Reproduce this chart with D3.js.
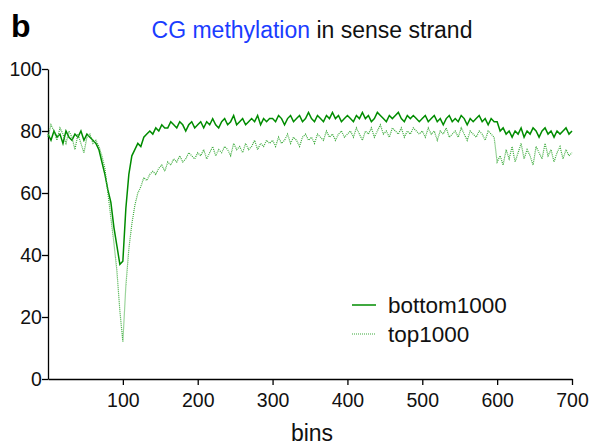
<!DOCTYPE html>
<html>
<head>
<meta charset="utf-8">
<script src="https://cdn.jsdelivr.net/npm/d3@7"></script>
<style>
body { margin: 0; background: #fff; }
text { font-family: "Liberation Sans", Arial, sans-serif; }
</style>
</head>
<body>
<div id="chart"></div>
<script>
// one value every 4 bins (0..700)
var binStep = 4;

var bottom1000 = [
    79,77,80,78,79,76,80,78,77,79,78,80,77,79,78,77,
    76,74,70,66,61,57,49,43,37,
    38,55,66,72,74,76,75,78,79,80,79,81,80,82,81,81,83,82,81,83,82,80,82,83,81,
    82,83,81,83,82,84,82,81,83,84,82,83,85,82,83,84,82,83,84,83,85,82,84,83,84,
    84,83,85,84,82,84,85,83,84,85,83,84,86,84,83,85,84,83,85,84,86,84,85,83,84,
    85,84,83,85,84,86,84,85,83,84,86,85,84,83,85,84,85,86,84,83,85,84,85,84,83,
    84,85,83,84,85,83,84,82,84,85,83,84,83,85,84,82,84,83,84,85,83,84,82,84,83,
    83,
    80,81,79,80,78,80,79,81,78,80,79,81,80,78,80,81,79,80,78,80,79,80,81,79,80
];

var top1000 = [
    78,82,80,77,81,79,76,80,78,74,79,76,73,78,79,76,
    77,75,72,68,60,52,44,35,22,
    12,30,42,50,56,60,62,65,64,66,67,66,68,69,67,70,69,71,70,72,70,71,73,72,71,
    73,72,74,71,73,75,72,74,73,75,74,72,76,74,75,73,76,74,75,77,74,76,75,77,76,
    77,75,78,76,77,79,76,78,77,75,78,79,77,78,76,79,78,77,80,78,79,77,79,80,78,
    79,80,78,81,79,77,80,79,81,78,80,82,79,80,78,81,80,79,81,78,80,79,81,80,79,
    80,78,81,79,80,77,80,79,81,78,79,80,78,81,79,77,80,79,78,80,79,77,80,79,78,
    70,
    72,69,74,71,75,70,73,76,71,74,72,69,75,73,71,76,72,74,70,73,75,71,74,72,73
];

var xTicks = [100, 200, 300, 400, 500, 600, 700];
var yTicks = [0, 20, 40, 60, 80, 100];

var series = [
    { name: "bottom1000", values: bottom1000, color: "#008c00", dash: null, width: 1.5 },
    { name: "top1000", values: top1000, color: "#3aaa3a", dash: "1,1", width: 1.2 }
];

var W = 597, H = 447;
var margin = { top: 69, right: 25, bottom: 68, left: 48 };
var width = W - margin.left - margin.right;
var height = H - margin.top - margin.bottom;

var svg = d3.select("#chart").append("svg")
    .attr("width", W)
    .attr("height", H);

var g = svg.append("g")
    .attr("transform", "translate(" + margin.left + "," + margin.top + ")");

var x = d3.scaleLinear().domain([0, 700]).range([0, width]);
var y = d3.scaleLinear().domain([0, 100]).range([height, 0]);

// axes
var xAxis = d3.axisBottom(x).tickValues(xTicks).tickSize(6).tickSizeOuter(0);
var yAxis = d3.axisLeft(y).tickValues(yTicks).tickSize(6).tickSizeOuter(0);

var gx = g.append("g")
    .attr("transform", "translate(0," + height + ")")
    .call(xAxis);
var gy = g.append("g").call(yAxis);

[gx, gy].forEach(function(a) {
    a.select(".domain").attr("stroke", "#000").attr("stroke-width", 1.3);
    a.selectAll(".tick line").attr("stroke", "#000").attr("stroke-width", 1.3);
    a.selectAll(".tick text")
        .attr("fill", "#111")
        .style("font-size", "19.5px");
});
gx.selectAll(".tick text").attr("dy", "0.95em");
gy.selectAll(".tick text").attr("dx", "0.15em").attr("dy", "0.35em");

// lines
var line = d3.line()
    .x(function(d, i) { return x(i * binStep); })
    .y(function(d) { return y(d); });

series.forEach(function(s) {
    g.append("path")
        .datum(s.values)
        .attr("fill", "none")
        .attr("stroke", s.color)
        .attr("stroke-width", s.width)
        .attr("stroke-dasharray", s.dash)
        .attr("d", line);
});

// legend
var legend = g.append("g").attr("transform", "translate(304,236)");
series.forEach(function(s, i) {
    var row = legend.append("g").attr("transform", "translate(0," + (i * 29) + ")");
    row.append("line")
        .attr("x1", 0).attr("x2", 24)
        .attr("y1", 0).attr("y2", 0)
        .attr("stroke", s.color)
        .attr("stroke-width", s.width)
        .attr("stroke-dasharray", s.dash);
    row.append("text")
        .attr("x", 36).attr("y", 8)
        .style("font-size", "22.5px")
        .attr("fill", "#111")
        .text(s.name);
});

// x label
svg.append("text")
    .attr("x", margin.left + width / 2 + 2)
    .attr("y", 441)
    .attr("text-anchor", "middle")
    .style("font-size", "23px")
    .attr("fill", "#111")
    .text("bins");

// title
var title = svg.append("text")
    .attr("x", 312)
    .attr("y", 38)
    .attr("text-anchor", "middle")
    .style("font-size", "23px");
title.append("tspan").attr("fill", "#1a3cff").text("CG methylation");
title.append("tspan").attr("fill", "#111").text(" in sense strand");

// panel letter
svg.append("text")
    .attr("x", 11)
    .attr("y", 37)
    .style("font-size", "32px")
    .style("font-weight", "bold")
    .attr("fill", "#000")
    .text("b");
</script>
</body>
</html>
